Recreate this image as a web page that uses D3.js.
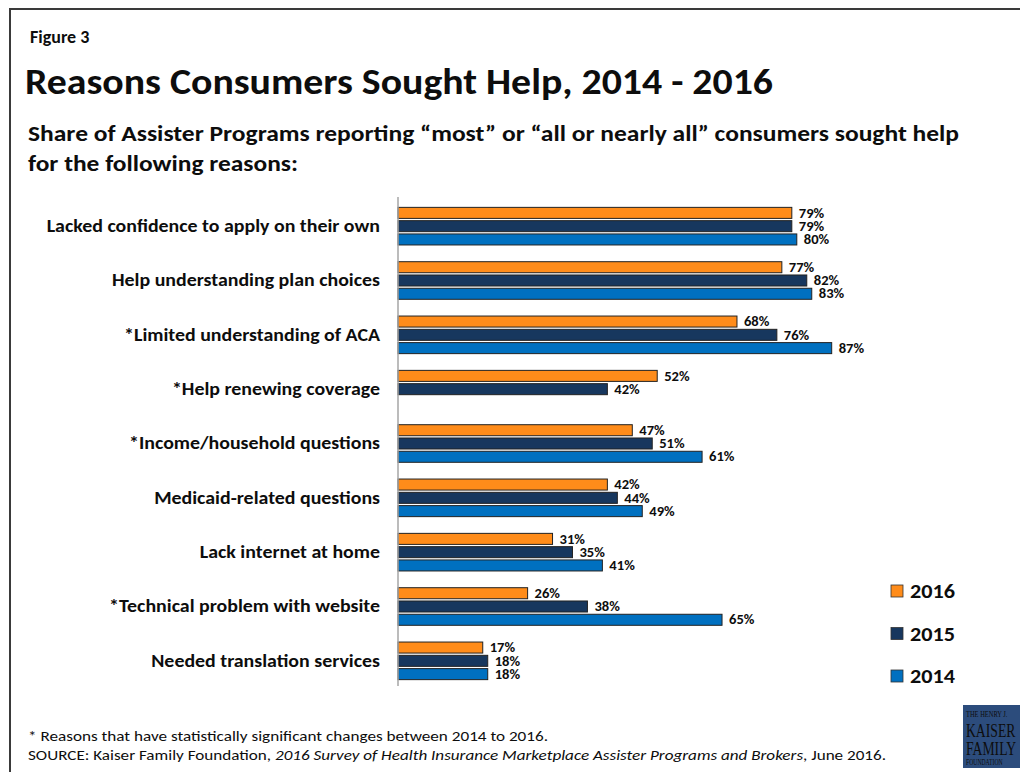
<!DOCTYPE html>
<html>
<head>
<meta charset="utf-8">
<script src="https://cdn.jsdelivr.net/npm/d3@7"></script>
<style>
  html, body { margin: 0; padding: 0; background: #fff; }
  svg { display: block; }
  text { font-family: Carlito, "Liberation Sans Narrow", "Open Sans", "Liberation Sans", sans-serif; fill: #0d0d0d; }
</style>
</head>
<body>
<svg id="chart" width="1020" height="772"></svg>
<script>
// Reasons consumers sought help, share of assister programs (percent)
const categories = [
  "Lacked confidence to apply on their own",
  "Help understanding plan choices",
  "*Limited understanding of ACA",
  "*Help renewing coverage",
  "*Income/household questions",
  "Medicaid-related questions",
  "Lack internet at home",
  "*Technical problem with website",
  "Needed translation services"
];
const years = ["2016", "2015", "2014"];
const values2016 = [79, 77, 68, 52, 47, 42, 31, 26, 17];
const values2015 = [79, 82, 76, 42, 51, 44, 35, 38, 18];
const values2014 = [80, 83, 87, null, 61, 49, 41, 65, 18];
const seriesValues = { "2016": values2016, "2015": values2015, "2014": values2014 };
const yearColors = { "2016": "#FF8C1A", "2015": "#17375E", "2014": "#0070C0" };

const svg = d3.select("#chart");

// outer frame
svg.append("path")
  .attr("d", "M10,772 L10,9 L1020,9")
  .attr("fill", "none")
  .attr("stroke", "#3a3a3a")
  .attr("stroke-width", 2);

// headings
svg.append("text").attr("x", 30).attr("y", 43)
  .attr("font-size", 18).attr("font-weight", "bold").text("Figure 3");

svg.append("text").attr("x", 25).attr("y", 94)
  .attr("font-size", 36).attr("font-weight", "bold")
  .attr("textLength", 748).attr("lengthAdjust", "spacingAndGlyphs")
  .text("Reasons Consumers Sought Help, 2014 - 2016");

svg.append("text").attr("x", 28).attr("y", 141)
  .attr("font-size", 23).attr("font-weight", "bold")
  .attr("textLength", 931).attr("lengthAdjust", "spacingAndGlyphs")
  .text("Share of Assister Programs reporting \u201cmost\u201d or \u201call or nearly all\u201d consumers sought help");
svg.append("text").attr("x", 28).attr("y", 171)
  .attr("font-size", 23).attr("font-weight", "bold")
  .attr("textLength", 270).attr("lengthAdjust", "spacingAndGlyphs")
  .text("for the following reasons:");

// scales
const x = d3.scaleLinear().domain([0, 100]).range([398, 896.5]);
const y = d3.scaleBand().domain(categories).range([199, 688]).paddingInner(0);
const yInner = d3.scaleBand().domain(years).range([-18.8, 18.8]).paddingInner(0.17);

// category labels, widened slightly to a condensed-face proportion
const yAxis = d3.axisLeft(y).tickSize(0).tickPadding(0);
const yAxisG = svg.append("g").attr("transform", "translate(380,0)").call(yAxis);
yAxisG.select(".domain").remove();
yAxisG.selectAll("text")
  .attr("font-size", 18).attr("font-weight", "bold")
  .style("font-family", null)
  .attr("fill", "#0d0d0d")
  .each(function () {
    const w = this.getComputedTextLength();
    d3.select(this).attr("textLength", w * 1.105).attr("lengthAdjust", "spacingAndGlyphs");
  });

// bars
const rows = [];
categories.forEach((c, i) => {
  years.forEach(yr => {
    const v = seriesValues[yr][i];
    if (v !== null) rows.push({ cat: c, year: yr, value: v });
  });
});

const barG = svg.append("g");
barG.selectAll("rect").data(rows).join("rect")
  .attr("x", x(0))
  .attr("y", d => y(d.cat) + y.bandwidth() / 2 + yInner(d.year))
  .attr("width", d => x(d.value) - x(0))
  .attr("height", yInner.bandwidth())
  .attr("fill", d => yearColors[d.year])
  .attr("stroke", "#222")
  .attr("stroke-width", 1);

barG.selectAll("text").data(rows).join("text")
  .attr("x", d => x(d.value) + 7)
  .attr("y", d => y(d.cat) + y.bandwidth() / 2 + yInner(d.year) + yInner.bandwidth() / 2)
  .attr("dy", "0.36em")
  .attr("font-size", 13).attr("font-weight", "bold")
  .text(d => d.value + "%")
  .each(function () {
    const w = this.getComputedTextLength();
    d3.select(this).attr("textLength", w * 1.12).attr("lengthAdjust", "spacingAndGlyphs");
  });

// vertical axis line
svg.append("line")
  .attr("x1", x(0)).attr("x2", x(0))
  .attr("y1", 197).attr("y2", 686)
  .attr("stroke", "#a6a6a6").attr("stroke-width", 1.5);

// legend
const legendY = d3.scalePoint().domain(years).range([591, 676]);
const legend = svg.append("g").selectAll("g").data(years).join("g")
  .attr("transform", d => `translate(891,${legendY(d)})`);
legend.append("rect")
  .attr("x", 0).attr("y", -6).attr("width", 12).attr("height", 12)
  .attr("fill", d => yearColors[d]).attr("stroke", "#333").attr("stroke-width", 0.8);
legend.append("text")
  .attr("x", 19).attr("y", 0).attr("dy", "0.36em")
  .attr("font-size", 20).attr("font-weight", "bold")
  .attr("textLength", 45).attr("lengthAdjust", "spacingAndGlyphs")
  .text(d => d);

// footnotes
svg.append("text").attr("x", 28).attr("y", 741)
  .attr("font-size", 15)
  .attr("textLength", 520).attr("lengthAdjust", "spacingAndGlyphs")
  .text("* Reasons that have statistically significant changes between 2014 to 2016.");
const src = svg.append("text").attr("x", 28).attr("y", 760)
  .attr("font-size", 15)
  .attr("textLength", 858).attr("lengthAdjust", "spacingAndGlyphs");
src.append("tspan").text("SOURCE: Kaiser Family Foundation, ");
src.append("tspan").attr("font-style", "italic")
  .text("2016 Survey of Health Insurance Marketplace Assister Programs and Brokers");
src.append("tspan").text(", June 2016.");

// foundation logo: condensed serif wordmark drawn with a horizontal squeeze
const logo = svg.append("g").attr("transform", "translate(963,705)");
logo.append("rect").attr("width", 57).attr("height", 63).attr("fill", "#2C4C7C");
const serif = "'Liberation Serif', 'DejaVu Serif', serif";
const wordmark = logo.append("g").attr("transform", "translate(3,0) scale(0.76,1)");
wordmark.append("text").attr("x", 0).attr("y", 12).attr("font-size", 8.5)
  .style("font-family", serif).attr("fill", "#fff").text("THE HENRY J.");
wordmark.append("text").attr("x", 0).attr("y", 32).attr("font-size", 18)
  .style("font-family", serif).attr("fill", "#fff").text("KAISER");
wordmark.append("text").attr("x", 0).attr("y", 50).attr("font-size", 18)
  .style("font-family", serif).attr("fill", "#fff").text("FAMILY");
wordmark.append("text").attr("x", 0).attr("y", 60).attr("font-size", 7.5)
  .style("font-family", serif).attr("fill", "#fff").text("FOUNDATION");
</script>
</body>
</html>
